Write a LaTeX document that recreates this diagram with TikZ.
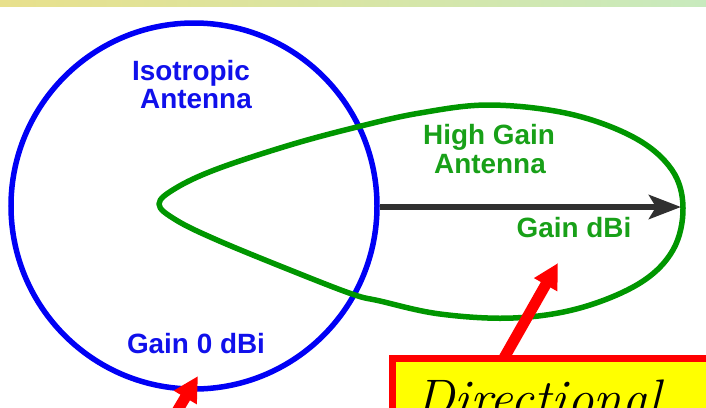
\documentclass[tikz,border=0pt]{standalone}
\usepackage{fontspec}
\setsansfont{Liberation Sans}
\usetikzlibrary{arrows.meta}
\definecolor{isoblue}{RGB}{0,0,245}
\definecolor{isotext}{RGB}{16,16,235}
\definecolor{lobegreen}{RGB}{0,150,0}
\definecolor{lobetext}{RGB}{24,160,24}
\definecolor{beamgray}{RGB}{48,48,48}
\definecolor{barleft}{RGB}{232,224,140}
\definecolor{barright}{RGB}{200,234,190}
\definecolor{calloutred}{RGB}{255,0,0}
\definecolor{calloutfill}{RGB}{255,255,0}
\begin{document}
\begin{tikzpicture}[x=1bp,y=-1bp,
  lbl/.style={font=\sffamily\bfseries\fontsize{28}{28}\selectfont, inner sep=0pt, anchor=base},
  bluelbl/.style={lbl, text=isotext},
  greenlbl/.style={lbl, text=lobetext},
  pattern circle/.style={draw=isoblue, line width=5.5bp},
  lobe/.style={draw=lobegreen, line width=5.5bp, line join=round},
  beam/.style={draw=beamgray, line width=6bp, -{Stealth[length=32bp,width=24bp,inset=7bp]}},
  pointer/.style={draw=calloutred, line width=11bp, -{Triangle[length=25bp,width=25bp]}},
  callout/.style={draw=calloutred, fill=calloutfill, line width=7bp, inner sep=0pt}]
\useasboundingbox (0,0) rectangle (706,407);
\clip (0,0) rectangle (706,407);

% header strip
\shade[left color=barleft, right color=barright] (0,0) rectangle (706,6);

% isotropic pattern
\draw[pattern circle] (194,206) circle[radius=183];

% high gain lobe
\draw[lobe] plot[smooth cycle, tension=0.6] coordinates {
  (159,204) (176,188) (217,169) (290,145) (357,127) (420,113) (490,105)
  (570,114) (635,138) (672,170) (683,208) (673,250) (640,283) (580,308)
  (513,318) (440,314) (380,301) (352,294) (290,270) (217,240) (176,220)};

% gain vector
\coordinate (beamstart) at (380,207);
\coordinate (beamtip) at (681,207);
\draw[beam] (beamstart) -- (beamtip);

% labels
\node[bluelbl] (isoA) at (191,80) {Isotropic};
\node[bluelbl] (isoB) at (196,108) {Antenna};
\node[bluelbl] (isogain) at (196,353) {Gain 0 dBi};
\node[greenlbl] (hgA) at (489,144) {High Gain};
\node[greenlbl] (hgB) at (490,173) {Antenna};
\node[greenlbl] (hggain) at (574,237) {Gain dBi};

% callout box
\node[callout, anchor=north west, minimum width=360bp, minimum height=120bp] (box) at (388.5,355) {};
\node[anchor=base west, inner sep=0pt, font=\itshape\fontsize{53}{54}\selectfont] (boxtext) at (415,416) {Directional};

% pointers
\coordinate (p1start) at (160,440);
\coordinate (p1tip) at (198,376);
\draw[pointer] (p1start) -- (p1tip);
\coordinate (p2start) at (504,358);
\coordinate (p2tip) at (558,263);
\draw[pointer] (p2start) -- (p2tip);
\end{tikzpicture}
\end{document}
